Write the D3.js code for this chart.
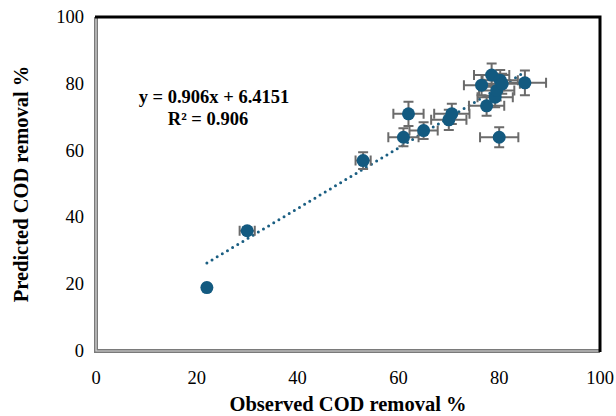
<!DOCTYPE html>
<html>
<head>
<meta charset="utf-8">
<script src="https://cdn.jsdelivr.net/npm/d3@7"></script>
<style>
  body { margin: 0; background: #fff; }
  text { font-family: "Liberation Serif", "Times New Roman", serif; }
</style>
</head>
<body>
<svg id="chart" width="616" height="416"></svg>
<script>
// observed vs predicted COD removal (%), with error estimates
const observed  = [22, 30, 53, 61, 62, 65, 70, 70.6, 80, 77.5, 79.2, 79.5, 76.5, 78.5, 80.2, 80.6, 85.1];
const predicted = [19, 36, 57, 64, 71, 66, 69.2, 71, 64, 73.4, 76, 78, 79.6, 82.6, 81.1, 80, 80.3];
const errObs    = [0.5, 1.5, 1.5, 3, 3, 2.8, 3.5, 3.5, 3.8, 3.5, 3.5, 3.5, 3.5, 3.5, 3.5, 3.5, 4.2];
const errPred   = [0.5, 1, 2.5, 2.7, 3.6, 2.5, 3, 3, 3, 3, 3, 3, 3, 3.5, 3, 3, 3.7];
const ticks = [0, 20, 40, 60, 80, 100];
const slope = 0.906, intercept = 6.4151;

const svg = d3.select("#chart");
const x = d3.scaleLinear().domain([0, 100]).range([96, 600]);
const y = d3.scaleLinear().domain([0, 100]).range([351, 17]);

const points = observed.map((v, i) => ({x: v, y: predicted[i], ex: errObs[i], ey: errPred[i]}));

// frame: gray double line left/bottom, black top/right
svg.append("path")
    .attr("d", `M${x(0)},${y(100)}V${y(0)}H${x(100)}`)
    .attr("fill", "none").attr("stroke", "#7a7a7a").attr("stroke-width", 4);
svg.append("path")
    .attr("d", `M${x(0)},${y(100)}V${y(0)}H${x(100)}`)
    .attr("fill", "none").attr("stroke", "#d6d6d6").attr("stroke-width", 1.2);
svg.append("path")
    .attr("d", `M${x(0) - 1},${y(100)}H${x(100)}V${y(0) + 1}`)
    .attr("fill", "none").attr("stroke", "#000").attr("stroke-width", 3);

// tick labels
svg.selectAll(".xl").data(ticks).enter().append("text")
    .attr("x", d => x(d)).attr("y", 384)
    .attr("text-anchor", "middle").style("font-size", "18.5px")
    .text(d => d);
svg.selectAll(".yl").data(ticks).enter().append("text")
    .attr("x", 84).attr("y", d => y(d) + 6)
    .attr("text-anchor", "end").style("font-size", "18.5px")
    .text(d => d);

// axis titles
svg.append("text")
    .attr("x", x(50)).attr("y", 411)
    .attr("text-anchor", "middle").style("font-size", "20.5px").style("font-weight", "bold")
    .text("Observed COD removal %");
svg.append("text")
    .attr("transform", `translate(28,${y(50)}) rotate(-90)`)
    .attr("text-anchor", "middle").style("font-size", "20.5px").style("font-weight", "bold")
    .text("Predicted COD removal %");

// trend line
const xmin = d3.min(observed), xmax = d3.max(observed);
svg.append("line")
    .attr("x1", x(xmin)).attr("y1", y(slope * xmin + intercept))
    .attr("x2", x(xmax)).attr("y2", y(slope * xmax + intercept))
    .attr("stroke", "#1a5e82").attr("stroke-width", 3)
    .attr("stroke-linecap", "round").attr("stroke-dasharray", "0 6");

// error bars
const eb = svg.append("g").attr("stroke", "#6b6b6b").attr("stroke-width", 2).attr("fill", "none");
points.forEach(p => {
    const cx = x(p.x), cy = y(p.y);
    const x0 = x(p.x - p.ex), x1 = x(p.x + p.ex);
    const y0 = y(p.y - p.ey), y1 = y(p.y + p.ey);
    eb.append("path").attr("d",
        `M${x0},${cy}H${x1}M${x0},${cy - 5}V${cy + 5}M${x1},${cy - 5}V${cy + 5}` +
        `M${cx},${y0}V${y1}M${cx - 5},${y0}H${cx + 5}M${cx - 5},${y1}H${cx + 5}`);
});

// markers
svg.selectAll("circle.pt").data(points).enter().append("circle")
    .attr("class", "pt")
    .attr("cx", d => x(d.x)).attr("cy", d => y(d.y))
    .attr("r", 6.5).attr("fill", "#135a80");

// equation
svg.append("text")
    .attr("x", 214).attr("y", 103)
    .attr("text-anchor", "middle").style("font-size", "18.5px").style("font-weight", "bold")
    .text("y = 0.906x + 6.4151");
svg.append("text")
    .attr("x", 208).attr("y", 125)
    .attr("text-anchor", "middle").style("font-size", "18.5px").style("font-weight", "bold")
    .text("R² = 0.906");
</script>
</body>
</html>
